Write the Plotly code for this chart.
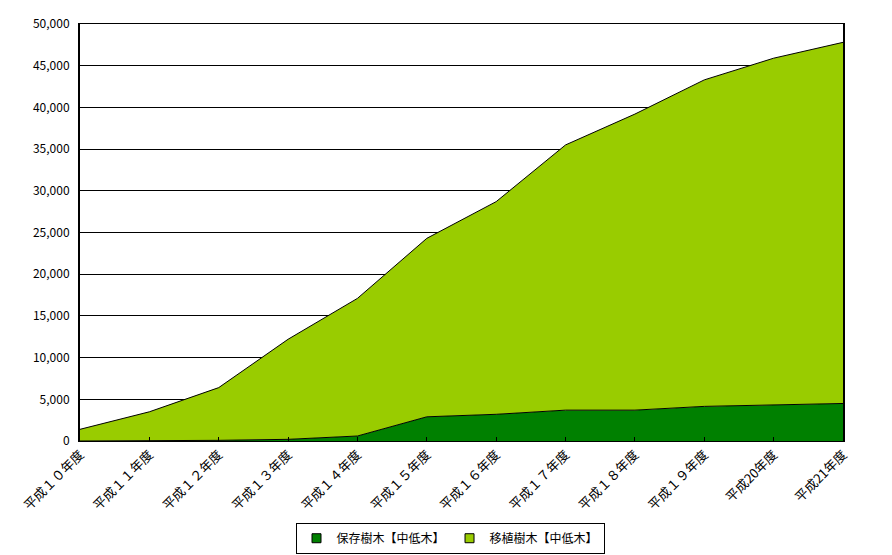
import plotly.graph_objects as go

categories = ["平成１０年度", "平成１１年度", "平成１２年度", "平成１３年度", "平成１４年度", "平成１５年度",
              "平成１６年度", "平成１７年度", "平成１８年度", "平成１９年度", "平成20年度", "平成21年度"]
hozon = [0, 0, 80, 200, 600, 2900, 3200, 3700, 3700, 4150, 4350, 4500]
ishoku = [1400, 3500, 6320, 12000, 16500, 21400, 25500, 31800, 35500, 39150, 41550, 43300]
series_names = ["保存樹木【中低木】", "移植樹木【中低木】"]
series_colors = ["#008000", "#99CC00"]
y_ticks = [0, 5000, 10000, 15000, 20000, 25000, 30000, 35000, 40000, 45000, 50000]

font_family = "Noto Sans CJK JP"

fig = go.Figure()
for vals, name, col in zip([hozon, ishoku], series_names, series_colors):
    fig.add_trace(go.Scatter(x=categories, y=vals, name=name, stackgroup="a",
                             mode="lines", line=dict(color="black", width=1),
                             fillcolor=col, showlegend=False))
# legend entries with square swatches
for name, col in zip(series_names, series_colors):
    fig.add_trace(go.Scatter(x=[None], y=[None], name=name, mode="markers",
                             marker=dict(symbol="square", size=9, color=col,
                                         line=dict(color="black", width=1)),
                             showlegend=True))

fig.update_layout(
    width=884, height=547,
    margin=dict(l=72, r=49, t=16, b=114),
    plot_bgcolor="white", paper_bgcolor="white",
    font=dict(family=font_family, size=12, color="black"),
    showlegend=True,
    legend=dict(orientation="h", x=0.5, xanchor="center", xref="container",
                y=0.059, yanchor="top", yref="container",
                bordercolor="black", borderwidth=1, bgcolor="white",
                font=dict(size=12), traceorder="normal", itemwidth=30,
                tracegroupgap=0),
    xaxis=dict(type="category", range=[0, 11], tickangle=-45, ticks="inside", ticklen=4,
               tickcolor="black", showgrid=False, showline=True, linecolor="black",
               linewidth=1, mirror=True, tickfont=dict(size=13), automargin=False),
    yaxis=dict(range=[0, 50000], tickvals=y_ticks, tickformat=",", showgrid=True,
               gridcolor="black", gridwidth=1, showline=True, linecolor="black",
               linewidth=2, mirror=True, ticks="", zeroline=False,
               ticklabelstandoff=6,
               tickfont=dict(size=12), automargin=False),
)

fig.write_html("out.html")
